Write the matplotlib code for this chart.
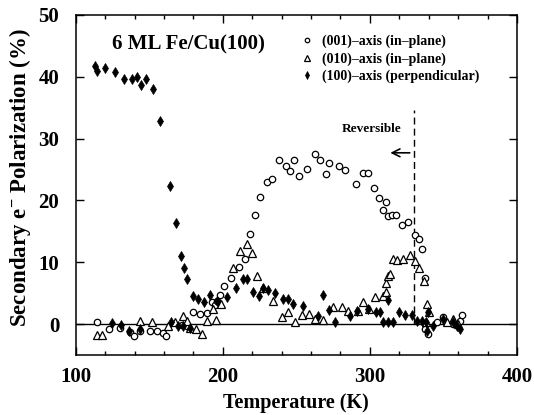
import matplotlib
matplotlib.use("Agg")
import matplotlib.pyplot as plt
from matplotlib.ticker import MultipleLocator

plt.rcParams['font.family'] = ['Liberation Serif', 'DejaVu Serif']
plt.rcParams['font.weight'] = 'bold'
plt.rcParams['mathtext.fontset'] = 'custom'
plt.rcParams['mathtext.rm'] = 'Liberation Serif:bold'
plt.rcParams['mathtext.it'] = 'Liberation Serif:bold'
plt.rcParams['mathtext.bf'] = 'Liberation Serif:bold'

# (001)-axis (in-plane) - open circles
T_001 = [114.5,122.7,129.9,136.7,139.5,143.5,150.3,154.9,159,161.2,
         171.9,175.3,179.8,184.4,188.9,192.3,194.6,195.7,198,200.7,
         205.2,211.1,215,218.4,221.8,225.2,229.7,233.1,238.3,242.9,
         245.6,248.3,251.9,256.9,262.6,266.4,270,272.3,279.1,283,
         290.5,295,298.9,303,306.1,308.6,310.9,312.5,314.8,317.7,
         321.6,325.6,330.6,333.5,335.6,337.8,337.8,339.7,345.4,349.9,
         356.7,361.2,362.4]
P_001 = [0.4,-0.8,-0.7,-1.3,-2.0,-1.1,-1.2,-1.2,-1.5,-1.9,
         -0.2,-0.3,2.0,1.7,1.8,3.6,3.1,3.8,4.7,6.1,
         7.5,9.2,10.6,14.5,17.7,20.6,23.0,23.5,26.5,25.6,
         24.7,26.6,24.0,25.1,27.5,26.6,24.3,26.1,25.6,25.0,
         22.7,24.4,24.4,22.0,20.4,18.5,19.7,17.5,17.7,17.7,
         16.0,16.5,14.4,13.7,12.2,7.4,-0.8,-1.6,0.3,1.2,
         0.0,0.5,1.5]

# (010)-axis (in-plane) - open triangles
T_010 = [114.5,118.1,143.5,151.5,162.8,167.3,173,175.3,177.6,181.6,
         185.5,189.3,193.4,195.2,198.4,206.6,212,216.1,219.5,223.3,
         227,233.8,239.9,244.4,249,253.5,258.7,262.6,267.8,275,
         280.7,285.2,292,295.4,299.5,303.4,308.6,310.9,310.9,312.5,
         313.6,315.9,318.6,322.7,327.2,330.6,333.5,336.7,338.6,340.4,
         338.1,352.2,356.7,360.1]
P_010 = [-1.8,-1.8,0.5,0.3,-0.3,0.3,1.3,0.5,-0.7,-0.8,
         -1.6,0.5,2.4,0.6,3.2,9.1,11.8,12.9,11.5,7.7,
         5.8,3.8,1.1,2.0,0.3,1.5,1.6,0.9,0.7,2.7,
         2.7,2.1,2.1,3.6,2.5,4.3,4.6,5.2,6.6,7.8,
         8.1,10.5,10.4,10.6,11.1,10.2,9.0,7.0,3.2,1.9,
         0.4,0.4,0.8,0.0]

# (100)-axis (perpendicular) - filled diamonds
T_100 = [113,114.5,119.7,126.5,132.7,137.9,141.3,144,147.6,152.2,
         157.4,163.9,168.2,171.2,173.9,175.3,179.4,183.2,187.1,191.2,
         195.7,202.5,208.6,213.8,216.5,220.2,224.7,227.4,230.8,235.4,
         240.6,244.4,247.8,254.6,264.9,268.3,272.3,276.2,286.4,291,
         298.9,304.1,306.8,309.1,312.5,315.9,312.5,320,323.8,328.4,
         331.8,335.2,338.1,339.7,338.6,343.1,349.9,356.7,359,361.2,
         124.3,131,136.3,143.5,165,169.6,173,177.6]
P_100 = [41.7,40.9,41.4,40.7,39.7,39.6,39.9,38.7,39.6,38.0,
         32.9,22.3,16.3,11.0,9.0,7.3,4.5,4.0,3.5,4.7,
         3.8,4.3,5.8,7.3,7.3,5.2,4.6,5.9,5.5,5.1,
         4.1,4.1,3.2,2.95,1.3,4.7,2.3,0.3,1.3,2.1,
         2.4,2.0,2.0,0.4,0.4,0.4,3.9,1.9,1.5,1.5,
         0.5,0.5,0.3,1.9,-1.1,-0.3,0.8,0.4,-0.3,-0.8,
         0.16,-0.2,-1.1,-0.8,0.3,-0.3,-0.3,-0.6]

labels = ["(001)\u2013axis (in\u2013plane)", "(010)\u2013axis (in\u2013plane)",
          "(100)\u2013axis (perpendicular)"]
T_rev = 330
P_rev_top = 34.7

fig = plt.figure(figsize=(5.34, 4.15), dpi=100)
ax = fig.add_axes([0.142, 0.1446, 0.826, 0.8194])

ax.axhline(0, color='black', lw=1.0, zorder=1)
ax.plot(T_001, P_001, ls='none', marker='o', ms=4.6, mfc='white', mec='black', mew=0.9, label=labels[0], zorder=3)
ax.plot(T_010, P_010, ls='none', marker='^', ms=5.2, mfc='white', mec='black', mew=0.9, label=labels[1], zorder=3)
ax.plot(T_100, P_100, ls='none', marker='d', ms=5.6, mfc='black', mec='black', mew=0.5, label=labels[2], zorder=4)

ax.plot([T_rev, T_rev], [0, P_rev_top], color='black', lw=1.0, ls=(0, (5, 3)), zorder=2)
ax.annotate('', xy=(312, 27.7), xytext=(329, 27.7),
            arrowprops=dict(arrowstyle='->', lw=1.2, color='black', mutation_scale=14))
ax.text(301, 31.6, 'Reversible', ha='center', va='center', fontsize=9.5, fontweight='bold')
ax.text(0.082, 0.912, '6 ML Fe/Cu(100)', transform=ax.transAxes, ha='left', va='center',
        fontsize=15, fontweight='bold')

leg = ax.legend(loc='upper left', bbox_to_anchor=(0.48, 0.975), frameon=False,
                fontsize=10, handlelength=1.2, handletextpad=0.45, labelspacing=0.3,
                borderpad=0.3, markerscale=0.7)
for t in leg.get_texts():
    t.set_fontweight('bold')

ax.set_xlim(100, 400)
ax.set_ylim(-5, 50)
ax.xaxis.set_major_locator(MultipleLocator(100))
ax.xaxis.set_minor_locator(MultipleLocator(20))
ax.yaxis.set_major_locator(MultipleLocator(10))
ax.tick_params(which='both', direction='in', top=True, right=True, width=1.0)
ax.tick_params(which='major', length=6, labelsize=15)
ax.tick_params(axis='y', which='major', pad=12)
ax.tick_params(axis='x', which='major', pad=9)
ax.tick_params(which='minor', length=3)
for lab in ax.get_xticklabels() + ax.get_yticklabels():
    lab.set_fontweight('bold')
for s in ax.spines.values():
    s.set_linewidth(1.1)

ax.set_xlabel('Temperature (K)', fontsize=14.5, fontweight='bold')
ax.set_ylabel('Secondary e$^{-}$ Polarization (%)', fontsize=16.5, fontweight='bold')
ax.xaxis.set_label_coords(0.5, -0.112)
ax.yaxis.set_label_coords(-0.098, 0.52)

fig.savefig('out.png', dpi=100)
